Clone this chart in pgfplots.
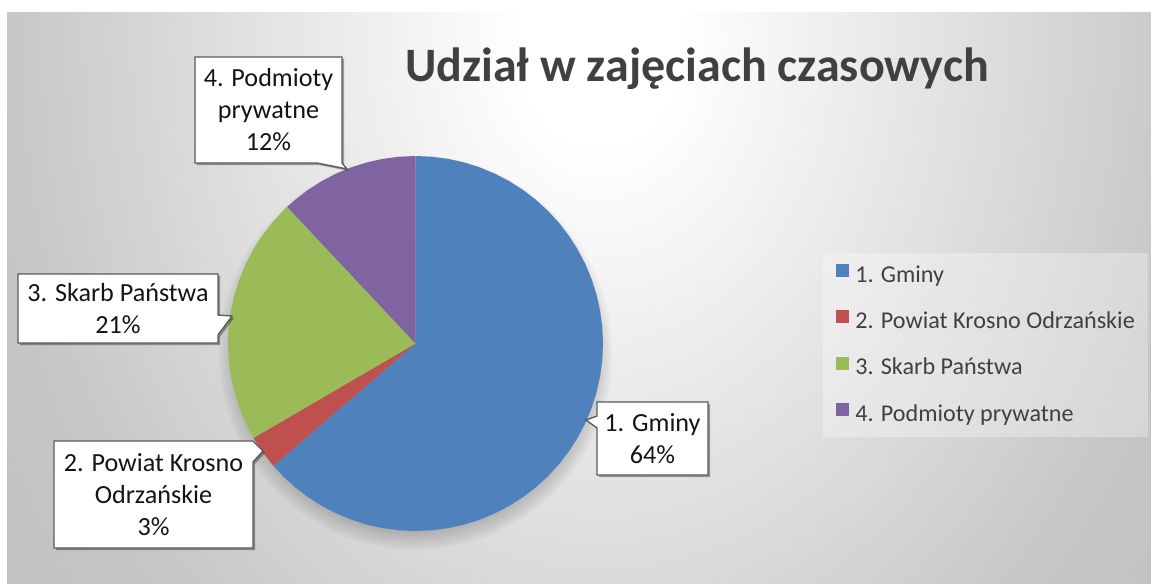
\documentclass[border=0pt]{standalone}
\usepackage{pgfplots}
\pgfplotsset{compat=1.18}
\usepackage{fontspec}
\setmainfont{Carlito}

\definecolor{gminy}{HTML}{4F81BD}
\definecolor{powiat}{HTML}{C0504D}
\definecolor{skarb}{HTML}{9BBB59}
\definecolor{podmioty}{HTML}{8064A2}
\definecolor{titlegray}{HTML}{404040}
\definecolor{boxline}{HTML}{5A5A5A}
\definecolor{bgmid}{HTML}{C6C6C6}
\definecolor{bgedge}{HTML}{B8B8B8}
\pgfdeclareradialshading{bgshade}{\pgfpoint{0bp}{0bp}}{color(0bp)=(white); color(2bp)=(white); color(15bp)=(bgmid); color(25bp)=(bgedge); color(50bp)=(bgedge)}

\newcommand{\lblfont}{\fontsize{19.6}{24}\selectfont}

\begin{document}
\begin{tikzpicture}
% background, pixel coordinates (1px = 0.75pt, y downwards)
\begin{scope}[x=0.75pt, y=-0.75pt, yshift=437.25pt]
  \fill[white] (0,0) rectangle (1151,583);
  \begin{scope}
    \clip (7,13) rectangle (1151,583);
    \fill[bgedge] (7,13) rectangle (1151,583);
    \shade[shading=bgshade] (600,40) ellipse (1000 and 1300);
  \end{scope}
  % soft shadow under the pie
  \foreach \i in {0,...,9}
    \fill[black, opacity=0.02] (415.5,353) circle ({179+2*\i});
\end{scope}

\begin{axis}[
  at={(0,0)}, anchor=south west,
  scale only axis, width=863.25pt, height=437.25pt,
  xmin=-415.5, xmax=735.5, ymin=-239.5, ymax=343.5,
  axis lines=none, clip=false,
  legend cell align=left,
  legend image code/.code={\fill[#1, fill opacity=1] (0pt,0pt) rectangle (9.75pt,9.75pt);},
  legend style={at={(axis cs:407.5,90.5)}, anchor=north west,
    fill=white, fill opacity=0.3, text opacity=1, draw=none,
    inner xsep=9.75pt, inner ysep=8pt, row sep=17pt, column sep=4.5pt,
    font=\fontsize{18.1}{21}\selectfont, text=titlegray,
    nodes={inner sep=0pt, text height=12pt, text depth=4pt}},
]
% shares: 63.7, 2.9, 21.4, 12.0 per cent (angle, radius)
\addplot[fill=gminy, draw=none, data cs=polar] coordinates {
  (0,0) (90,187.5) (85,187.5) (80,187.5) (75,187.5) (70,187.5) (65,187.5)
  (60,187.5) (55,187.5) (50,187.5) (45,187.5) (40,187.5) (35,187.5)
  (30,187.5) (25,187.5) (20,187.5) (15,187.5) (10,187.5) (5,187.5)
  (0,187.5) (-5,187.5) (-10,187.5) (-15,187.5) (-20,187.5) (-25,187.5)
  (-30,187.5) (-35,187.5) (-40,187.5) (-45,187.5) (-50,187.5) (-55,187.5)
  (-60,187.5) (-65,187.5) (-70,187.5) (-75,187.5) (-80,187.5) (-85,187.5)
  (-90,187.5) (-95,187.5) (-100,187.5) (-105,187.5) (-110,187.5)
  (-115,187.5) (-120,187.5) (-125,187.5) (-130,187.5) (-135,187.5)
  (-139.32,187.5)
};
\addlegendentry{1. Gminy}
\addplot[fill=powiat, draw=none, data cs=polar] coordinates {
  (0,0) (-139.32,187.5) (-140,187.5) (-145,187.5) (-149.76,187.5)
};
\addlegendentry{2. Powiat Krosno Odrzańskie}
\addplot[fill=skarb, draw=none, data cs=polar] coordinates {
  (0,0) (-149.76,187.5) (-150,187.5) (-155,187.5) (-160,187.5) (-165,187.5)
  (-170,187.5) (-175,187.5) (-180,187.5) (-185,187.5) (-190,187.5)
  (-195,187.5) (-200,187.5) (-205,187.5) (-210,187.5) (-215,187.5)
  (-220,187.5) (-225,187.5) (-226.8,187.5)
};
\addlegendentry{3. Skarb Państwa}
\addplot[fill=podmioty, draw=none, data cs=polar] coordinates {
  (0,0) (-226.8,187.5) (-230,187.5) (-235,187.5) (-240,187.5) (-245,187.5)
  (-250,187.5) (-255,187.5) (-260,187.5) (-265,187.5) (-270,187.5)
};
\addlegendentry{4. Podmioty prywatne}
\end{axis}

% title and data label callouts, pixel coordinates
\begin{scope}[x=0.75pt, y=-0.75pt, yshift=437.25pt,
  shad/.style={fill=black, opacity=0.35, draw=none, shift={(2,2)}},
  call/.style={fill=white, draw=boxline, line width=1pt, line join=miter},
  txt/.style={align=center, font=\lblfont, text=black!92, inner sep=0pt}]
  \node[anchor=base, font=\bfseries\fontsize{36}{42}\selectfont, text=titlegray]
    at (697,82) {Udział w zajęciach czasowych};
  % 4. Podmioty prywatne
  \path[shad] (195,57) -- (342,57) -- (342,163) -- (347,169) -- (317,163) -- (195,163) -- cycle;
  \path[call] (195,57) -- (342,57) -- (342,163) -- (347,169) -- (317,163) -- (195,163) -- cycle;
  \node[txt] at (268.5,110) {4. Podmioty\\prywatne\\12\%};
  % 3. Skarb Panstwa
  \path[shad] (18,274) -- (218,274) -- (218,315) -- (232,316) -- (218,335) -- (218,343) -- (18,343) -- cycle;
  \path[call] (18,274) -- (218,274) -- (218,315) -- (232,316) -- (218,335) -- (218,343) -- (18,343) -- cycle;
  \node[txt] at (118,308.5) {3. Skarb Państwa\\21\%};
  % 2. Powiat Krosno Odrzanskie
  \path[shad] (54,441) -- (253,441) -- (263,451) -- (253,462) -- (253,548) -- (54,548) -- cycle;
  \path[call] (54,441) -- (253,441) -- (263,451) -- (253,462) -- (253,548) -- (54,548) -- cycle;
  \node[txt] at (153.5,494.5) {2. Powiat Krosno\\Odrzańskie\\3\%};
  % 1. Gminy
  \path[shad] (597,402) -- (708,402) -- (708,475) -- (597,475) -- (597,428) -- (586,420) -- (597,416) -- cycle;
  \path[call] (597,402) -- (708,402) -- (708,475) -- (597,475) -- (597,428) -- (586,420) -- (597,416) -- cycle;
  \node[txt] at (652.5,438.5) {1. Gminy\\64\%};
\end{scope}
\end{tikzpicture}
\end{document}
